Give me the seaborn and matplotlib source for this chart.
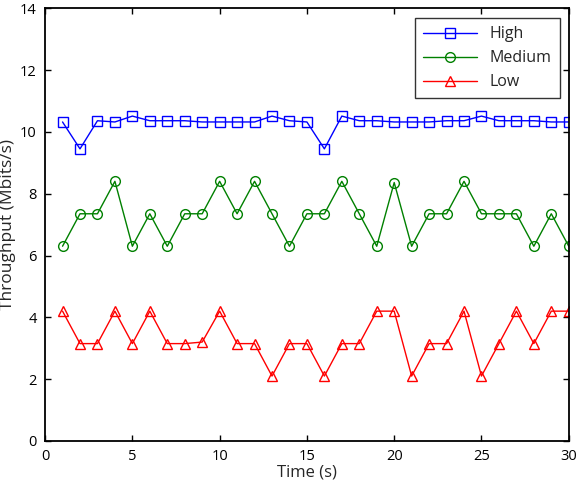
import matplotlib
matplotlib.use("Agg")
import matplotlib.pyplot as plt
import seaborn as sns
import pandas as pd

# Throughput samples, one per second
time_s = list(range(1, 31))
high = [10.32, 9.45, 10.36, 10.32, 10.51, 10.36, 10.36, 10.36, 10.32, 10.32,
        10.32, 10.32, 10.51, 10.36, 10.32, 9.45, 10.51, 10.36, 10.36, 10.32,
        10.32, 10.32, 10.36, 10.36, 10.51, 10.36, 10.36, 10.36, 10.32, 10.32]
medium = [6.3, 7.35, 7.35, 8.4, 6.3, 7.35, 6.3, 7.35, 7.35, 8.4,
          7.35, 8.4, 7.35, 6.3, 7.35, 7.35, 8.4, 7.35, 6.3, 8.36,
          6.3, 7.35, 7.35, 8.4, 7.35, 7.35, 7.35, 6.3, 7.35, 6.3]
low = [4.2, 3.15, 3.15, 4.2, 3.15, 4.2, 3.15, 3.15, 3.2, 4.2,
       3.15, 3.15, 2.1, 3.15, 3.15, 2.1, 3.15, 3.15, 4.2, 4.2,
       2.1, 3.15, 3.15, 4.2, 2.1, 3.15, 4.2, 3.15, 4.2, 4.2]

series_names = ["High", "Medium", "Low"]
series_colors = ["#0000ff", "#008000", "#ff0000"]
series_markers = ["s", "o", "^"]

df = pd.DataFrame({"time": time_s, "High": high, "Medium": medium, "Low": low})

sns.set_style("ticks")
plt.rcParams["font.family"] = ["Open Sans", "DejaVu Sans"]

fig, ax = plt.subplots(figsize=(5.78, 4.83), dpi=100)
fig.subplots_adjust(left=0.078, right=0.984, bottom=0.087, top=0.983)

for name, color, marker in zip(series_names, series_colors, series_markers):
    sns.lineplot(data=df, x="time", y=name, ax=ax, color=color, marker=marker,
                 markersize=7, markerfacecolor="none", markeredgecolor=color,
                 markeredgewidth=1.0, linewidth=1.0, label=name)

ax.set_xlim(0, 30)
ax.set_ylim(0, 14)
ax.set_xticks(range(0, 31, 5))
ax.set_yticks(range(0, 15, 2))
ax.tick_params(direction="in", top=True, right=True, length=4, width=1,
               labelsize=10.5, colors="black", pad=6)
for side in ax.spines.values():
    side.set_linewidth(1.3)
    side.set_color("black")

ax.set_xlabel("Time (s)", fontsize=12, labelpad=0)
ax.set_ylabel("Throughput (Mbits/s)", fontsize=12.5, labelpad=3)

leg = ax.legend(loc="upper right", bbox_to_anchor=(0.983, 0.977), borderaxespad=0,
                frameon=True, fancybox=False, edgecolor="black", fontsize=11.5,
                handlelength=3.4, borderpad=0.5, labelspacing=0.5, handletextpad=0.8)
leg.get_frame().set_linewidth(1.0)

fig.savefig("out.png", dpi=100)
